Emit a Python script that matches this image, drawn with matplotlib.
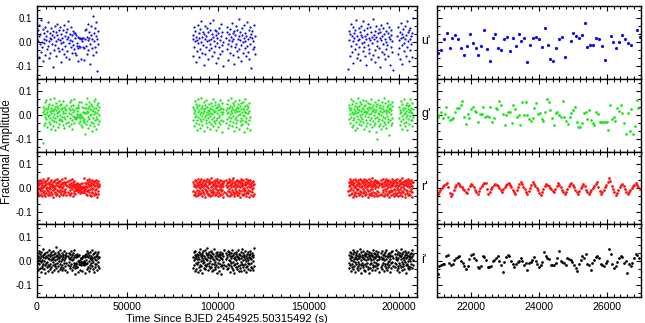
import numpy as np
import matplotlib.pyplot as plt
from matplotlib.ticker import MultipleLocator, FormatStrFormatter
from matplotlib.transforms import blended_transform_factory

plt.rcParams['font.family'] = ['Liberation Sans', 'DejaVu Sans']
plt.rcParams['axes.unicode_minus'] = False

# ---------------- data (flux in units of 0.001, times in s) ----------------
FILTERS = ["u'", "g'", "r'", "i'"]
COLORS = ['#0a0aee', '#1ee61e', '#ff1010', '#000000']

# full light curves: observing segments (start, end) and the fluxes read in each
U_SEGMENTS = [(0, 21000), (27000, 34000), (86000, 103000), (104500, 120500),
              (172000, 196500), (199000, 207500)]
U_FLUX = [
    [12, -115, 48, 5, -62, 27, 71, -8, 33, -41, 90, 2, -19, 56, -77, 38, 15, -3, 64, -52,
     24, 8, -28, 45, 81, -15, 3, -66, 37, 19, -44, 58, 11, -9, 29, -103, 46, 22, -31, 67,
     -12, 40, 6, -57, 31, 74, -23, 14, 52, -38, 9, 63, -5, -81, 35, 18, -27, 49, 1, -48,
     70, 26, -16, 42, -60, 13, 55, -36, 21, 87, -2, -70, 34, 10, -21, 61, -45, 28, 4, 47,
     -11, 39, -30, 16],
    [-14, 53, 22, -47, 8, 76, -33, 19, 41, -6, -88, 30, 65, -25, 12, 108, -52, 36, 3, -19,
     57, -40, 25, 84, -118, 14, 45, -9],
    [31, -56, 14, 62, -22, 5, 47, -80, 23, 9, -37, 71, -4, 38, -63, 17, 54, -29, 0, 86,
     -45, 20, 43, -12, -95, 35, 11, -50, 68, 26, -18, 3, 59, -71, 40, 7, -33, 49, -7, 78,
     -26, 15, 33, -58, 22, 92, -39, 6, 51, -15, -84, 29, 44, -3, 18, -66, 37, 60, -21, 10,
     -47, 25, 74, -10, -36, 41, 2, -99],
    [18, 63, -27, 40, -9, -74, 32, 7, 55, -43, 21, -16, 79, 4, -52, 36, 13, -88, 47, -20,
     28, 66, -6, -35, 50, 15, -61, 24, 95, -30, 9, 42, -12, -77, 31, 58, -1, -45, 19, 70,
     -24, 37, 3, -56, 26, 83, -14, 11, -39, 48, -68, 22, 61, -8, 34, -107, 16, 45, -29, 5,
     72, -19, 27, -48],
    [-112, 45, 10, -58, 33, 76, -14, 27, -41, 64, 3, -86, 38, 19, -30, 52, -9, 90, -65, 24,
     7, -47, 59, 14, -21, 42, -73, 31, 68, -5, 20, -37, 85, -18, 49, 2, -56, 26, 11, -94,
     57, 35, -11, 73, -44, 16, -27, 61, 8, -69, 40, 23, -3, 97, -52, 29, 13, -34, 46, -80,
     22, 66, -16, 4, -60, 37, 54, -25, 18, -104, 43, 9, 71, -39, 25, -8, 58, -49, 32, 15,
     -71, 47, 1, -28, 80, -13, 36, -55, 21, 62, -92, 12, 50, -20, 30, -42, 6, -116],
    [26, -49, 61, 8, -25, 43, -70, 17, 79, -12, 35, -91, 22, 54, -4, -37, 66, 11, -58, 29,
     87, -21, 40, 3, -76, 48, 14, -33, 58, -8, 24, -63, 37, 100],
]

G_SEGMENTS = [(3300, 16500), (17400, 21000), (27000, 34500), (86300, 102900),
              (104400, 117600), (172200, 196300), (200000, 207700)]
G_FLUX = [
    [14, -115, 35, 3, -41, 19, 52, -9, 27, -33, 6, 61, -17, 24, -50, 11, 38, -4, 29, -27,
     45, 0, -36, 17, 66, -13, 8, -58, 31, 21, -19, 42, -7, 15, -45, 26, 72, -24, 4, 33,
     -11, -63, 20, 49, -30, 9, 37, -2, -48, 28, 13, -21, 56, -38, 18, 2, 40, -15, -22, 23,
     47, -6, 30, -26, 10, 59, -42, 16, -9, 34, -55, 25, 7, -18, 43, -31, 21, -3],
    [-28, 31, 8, -46, 19, 54, -12, 37, -35, 3, 62, -20, 26, -58, 14, 41, -5, -31, 22, 68, -16],
    [9, -37, 44, 18, -24, 70, -8, 29, -52, 12, 36, -18, 55, -1, -42, 25, 6, -29, 47, -64,
     21, 39, -11, 16, -33, 58, 3, -47, 30, 13, -20, 65, -6, -56, 27, 40, -15, 8, -38, 50,
     19, -26, 2, 33],
    [-19, 32, 7, -44, 25, 58, -10, 16, -31, 47, 2, -60, 28, 39, -22, 11, 64, -6, -37, 20,
     43, -15, 5, -52, 30, 71, -26, 13, 36, -3, -41, 24, 8, -18, 53, -67, 17, 41, -9, 27,
     -34, 0, 60, -21, 14, 35, -48, 22, 6, -12, 45, -29, 18, -57, 31, 10, -4, 50, -38, 26,
     -16, 38, 3, -45, 21, 67, -24, 12, -7, 42, -33, 15, 55, -20, 29, -62, 9, 34, -13, 19,
     -50, 44, 1, -27, 37, -8, 23, 63, -36, 11, -19, 30, -71, 48, 5, -23, 26, 14],
    [22, -34, 9, 46, -17, 30, -55, 13, 61, -6, 27, -40, 4, 38, -23, 17, 70, -12, -46, 25,
     8, 33, -28, 51, -2, -64, 20, 41, -15, 11, 57, -31, 24, -8, -49, 35, 15, -21, 44, -1,
     29, -58, 18, 63, -26, 6, 36, -11, -43, 23, 48, -19, 12, -35, 31, 2, 55, -68, 21, -5,
     39, -24, 14, 66, -30, 9, -14, 42, -52, 26, 7, -38, 34, 16, -20, 50, -9, -61],
    [28, -15, 40, 6, -33, 19, 65, -7, 31, -48, 14, 44, -22, 3, 57, -39, 23, 10, -11, 36,
     -60, 17, 49, -28, 8, 33, -4, -52, 26, 71, -18, 12, 39, -36, 21, 0, 54, -25, 15, -9,
     46, -43, 30, 5, -16, 62, -30, 24, 11, -56, 37, 18, -2, 43, -21, 7, 58, -45, 27, 13,
     -34, 50, -10, 20, -64, 35, 4, -19, 45, 29, -38, 9, 67, -14, 22, -50, 32, 16, -26, 41,
     1, -41, 25, 55, -12, 14, -31, 38, -70, 19, 47, -6, -100, -24, 10, 60, -47, 33, 6, -17,
     42, -35, 18, 2, -58, 30, 52, -20, 12, 36, -8, -44, 24, 69, -27, 15, -13, 48, -37, 21,
     7, -54, 34, 17, -3, 40, -29, 59, -16, 26, -81, 11, 45, -22, 31, 3, -40, 20, 53, -11,
     37, -32],
    [-12, 35, 8, -40, 22, 57, -25, 14, -3, 46, -57, 19, 31, -18, 5, 64, -33, 27, 10, -47,
     40, -8, 16, -28, 51, 2, -62, 24, 37, -15, 11, 43, -36, 20, -5, 68, -22, 13, 30, -44,
     7, 49, -19, 26, -9],
]

R_SEGMENTS = [(0, 16500), (17300, 21000), (27000, 34400), (86300, 103300),
              (104400, 119900), (172000, 189000), (189800, 207500)]
R_FLUX = [
    [12, -18, 25, -5, 30, -22, 8, 16, -29, 21, -3, 33, -14, 4, -26, 19, 27, -9, -33, 14,
     2, 24, -17, 36, -11, 7, -24, 20, 11, -35, 28, -2, -19, 15, 31, -8, 5, -27, 22, -13,
     39, 0, -21, 17, 9, -31, 26, -6, 13, -16, 34, 3, -25, 18, -10, 23, 6, -38, 29, -4,
     10, -20, 32, 1, -15, 21, -28, 14, 37, -7, -23, 25, 8, -12, 19, -34, 27, 4, -18, 12,
     30, -9, -26, 16, 3, 22, -14, 35, -1, -30, 20, 7, -11, 26, -22, 15, 41, -5, -17, 11,
     24, -27, 9],
    [-16, 27, 5, -24, 18, 33, -10, 12, -29, 21, 2, -19, 36, -6, 14, -32, 25, 8, -13, 30,
     -21, 16, -2],
    [19, -25, 10, 31, -12, 4, -30, 23, 15, -8, 37, -18, 6, -27, 28, -3, 13, -35, 20, 9,
     -15, 34, -6, -22, 26, 1, 17, -31, 11, 29, -10, -19, 24, 7, -26, 32, -4, 14, -37, 21,
     3, -14, 27, -23, 16, 8],
    [-11, 24, 6, -28, 17, 32, -15, 9, -23, 28, 2, -34, 20, 13, -7, 35, -19, 11, -30, 25,
     4, -13, 30, -25, 16, -2, 38, -21, 8, -32, 22, 14, -9, 27, -17, 3, 33, -26, 12, -5,
     21, -36, 18, 7, -14, 29, -20, 10, 36, -11, -27, 23, 1, 15, -24, 31, -8, 19, -33, 26,
     5, -16, 40, -12, 9, -29, 24, 17, -4, -22, 30, 11, -18, 2, 34, -31, 21, -6, 13, -26,
     28, 6, -15, 37, -10, -35, 19, 8, -21, 25, 14, -3, -28, 32, -13, 18, 4, -24, 27, -9,
     16, -39, 22, 10, -17, 29],
    [14, -20, 31, 5, -27, 19, 26, -12, 8, -33, 23, 36, -6, -18, 12, 28, -25, 3, 17, -30,
     33, -9, 21, -15, 10, 39, -23, 6, -35, 25, 15, -4, -21, 29, -11, 18, 2, -28, 34, -16,
     9, 24, -31, 13, -7, 30, -19, 20, 4, -37, 27, 11, -13, 35, -24, 7, 22, -3, -29, 16,
     32, -14, 1, -26, 26, 12, -10, 38, -20, 15, -32, 23, 5, -17, 31, -8, 19, -22, 10, 28,
     -36, 17, 3, -12, 33, -27, 21, 8, -5, 25, -18, 14, -34, 30, -1, 18, -25],
    [-14, 26, 9, -31, 20, 35, -7, 13, -24, 30, -2, -19, 24, 16, -36, 11, 33, -10, 5, -27,
     22, 38, -15, 7, -22, 29, 1, -33, 18, 12, -8, 34, -20, 25, -4, 10, -29, 21, 37, -12,
     -25, 15, 3, 31, -17, 23, -34, 8, 27, -6, 19, -21, 36, -11, 14, -30, 26, 2, -16, 32,
     17, -26, 9, -3, 28, -38, 20, 6, -13, 35, -23, 12, 24, -9, -31, 18, 4, 30, -19, 14,
     -6, 39, -28, 22, 10, -15, 27, -35, 16, 1, 33, -20, 11, -24, 25, 7, -12, 29, -32, 19,
     3, 26, -17, 13, -27, 21],
    [18, -23, 31, 4, -30, 22, 13, -9, 36, -18, 7, -34, 25, 15, -5, 28, -26, 11, 38, -14,
     -2, 20, -31, 27, 9, -20, 33, -11, 16, -37, 24, 3, -16, 30, -7, 12, -28, 21, 35, -13,
     6, -24, 29, 17, -3, -32, 23, 10, -19, 34, -8, 14, -27, 26, 1, 37, -21, 19, -10, 8,
     -35, 28, 12, -15, 32, -4, 22, -29, 15, 5, -22, 39, -12, 24, -33, 18, 2, -17, 30, -6,
     11, -25, 27, 20, -38, 14, -9, 31, -20, 7, 25, -14, 35, -30, 16, 3, -23, 29, 9, -11,
     21, -27, 33, -5, 13, -36, 26, 6, -18, 24],
]

I_SEGMENTS = [(0, 16500), (17300, 21000), (27000, 34400), (86300, 103300),
              (104400, 119900), (172200, 189000), (189800, 196500), (197500, 207700)]
I_FLUX = [
    [8, -24, 31, -9, 17, -38, 22, 3, -15, 40, -30, 12, 27, -6, -44, 19, 35, -20, 5, -28,
     14, 47, -12, 24, -35, 1, 29, -18, 10, -52, 33, 16, -8, 21, -26, 38, -3, -40, 25, 11,
     -16, 43, -22, 7, 30, -33, 18, -11, 2, 36, -27, 13, -47, 23, 9, -19, 41, -5, 28, -37,
     15, 4, -23, 33, -13, 20, 55, -31, 6, -9, 26, -42, 17, 37, -21, 11, -2, 30, -34, 22,
     -14, 45, 0, -25, 19, -39, 32, 7, -17, 26, -29, 14, 39, -10, 3, -36, 24, 12, -20, 34,
     -7, 18, -45],
    [21, -17, 34, -4, 12, -31, 27, 6, -22, 39, -12, 16, -36, 25, 2, -26, 31, 9, -8, 43,
     -19, 14, -28],
    [-13, 29, 5, -33, 20, 41, -8, 16, -24, 33, -1, -41, 24, 11, -18, 37, -29, 7, 19, -10,
     45, -21, 13, 2, -35, 27, -6, 15, -47, 31, 9, -15, 38, -26, 18, 4, -12, 28, -38, 22,
     -3, 35, -20, 10, -30, 17],
    [17, -29, 35, 4, -19, 26, -40, 12, 42, -7, 21, -33, 9, 30, -14, -46, 24, 15, -3, 37,
     -25, 6, 28, -17, 48, -37, 19, 1, -22, 33, 11, -51, 26, -10, 39, 5, -28, 20, -5, 44,
     -16, 13, -34, 31, 8, -23, 23, 52, -12, 3, -39, 27, 16, -20, 36, -8, 10, -31, 25, -1,
     41, -26, 18, -43, 14, 32, -15, 7, -36, 29, 2, -11, 47, -24, 22, -4, -33, 34, 12, -18,
     26, -48, 9, 38, -9, 19, -27, 30, 4, -40, 24, 16, -13, 36, -21, 11, -55, 28, 6, -16,
     33, -6, 20, -30, 43, -19],
    [-20, 31, 8, -35, 23, 14, -11, 40, -28, 5, 27, -17, 36, -44, 18, 1, -23, 33, 10, -8,
     45, -31, 21, -3, -38, 26, 12, -19, 34, -49, 16, 7, -14, 29, -26, 38, 3, -34, 22, -9,
     13, 43, -22, 17, -40, 30, 6, -16, 24, -30, 35, -5, 11, -42, 20, 48, -13, 2, -27, 32,
     -18, 15, -36, 25, 9, -11, 39, -24, 19, -2, -46, 28, 13, -21, 37, -7, 4, -32, 23, 16,
     -15, 30, -39, 11, 42, -25, 7, -10, 34, -29, 21, -1, -37, 26, 14, -20, 51],
    [-9, 26, -30, 13, 38, -18, 4, -41, 22, 31, -12, 17, -25, 44, 1, -35, 28, 9, -20, 36,
     -6, 15, -46, 24, 11, -15, 33, -28, 7, 41, -22, 19, -3, -38, 29, 12, -11, 47, -31, 21,
     3, -19, 35, -52, 16, 26, -8, -27, 39, 10, -16, 24, -36, 6, 32, -13, 18, -43, 27, 2,
     -21, 42, -7, 14, -33, 30, 8, -24, 20, -49, 37, 11, -14, 25, -29, 5, 34, -10, 18, -39,
     23, 45, -17, 9, -26, 31, -4, 15, -37, 28, 12, -22, 40, -8, 19, -31, 3, 27, -18, 35,
     -12, 21, -45, 16, 8],
    [15, -27, 32, 6, -19, 40, -34, 12, 24, -8, -42, 29, 3, -15, 37, -23, 18, 9, -31, 45,
     -12, 21, -38, 14, 30, -5, -26, 34, 1, -17, 26, -47, 19, 8, -10, 36, -29, 22, -3, 41,
     -21, 11],
    [-7, 30, -25, 16, 43, -14, 9, -36, 27, 2, -20, 38, -30, 13, 24, -9, -44, 21, 34, -16,
     6, 47, -27, 18, -3, -38, 29, 11, -12, 35, -23, 15, 4, -33, 26, -5, 41, -19, 10, -48,
     31, 14, -11, 23, -29, 37, 1, -21, 19, 8, -35, 28, -2, 16, -25, 33, 12, -15, 44, -31,
     20, 5, -17, 27],
]

# zoomed window 21000-27000 s (also part of the first night on the left)
U_ZOOM_T = [21010, 21108, 21197, 21285, 21363, 21442, 21530, 21618, 21696, 21785,
            21873, 21961, 22049, 22128, 22206, 22294, 22382, 22471, 22559, 22637,
            22716, 22804, 22892, 22970, 23059, 23147, 23235, 23313, 23402, 23480,
            23568, 23656, 23745, 23823, 23911, 23999, 24078, 24166, 24254, 24333,
            24421, 24499, 24587, 24676, 24764, 24930, 25009, 25097, 25175, 25264,
            25352, 25430, 25518, 25607, 25685, 25773, 25861, 25940, 26116, 26195,
            26283, 26371, 26449, 26538, 26616, 26704, 26881, 26969]
U_ZOOM_F = [-43, -32, 12, 36, -26, 16, 30, 11, -25, -52,
            -14, 33, -4, -25, -52, -15, 52, -29, -77, 16,
            32, -26, -32, 11, 21, -38, 19, -16, 34, 3,
            16, -80, -11, 16, 21, 11, -19, 60, -10, -70,
            -77, -23, 12, 23, -63, 5, 36, 26, 19, 29,
            77, -18, -11, -12, 18, 15, -15, -74, 26, -1,
            -25, -1, 30, 12, -3, -11, 49, 22]

G_ZOOM_SPAN = (21010, 26930)
G_ZOOM_F = [-6, -1, 12, -14, 6, 32, -9, -21, -16, -14,
            12, 27, 30, 43, 57, -9, -35, 6, -13, 26,
            32, 17, 13, -27, 4, 4, 34, -7, -5, -6,
            34, -28, -13, 30, 24, 57, 41, 5, -42, -1,
            12, 13, -32, 41, 23, -9, -1, -43, 54, -1,
            52, -1, -17, -23, -14, 28, 49, 6, 10, -17,
            -23, 12, 67, 54, 19, -13, -39, 10, 12, 2,
            -7, 58, -7, -23, -35, -10, 8, 19, 35, -29,
            -50, -50, -32, 10, 12, -18, 20, -21, -33, -43,
            12, 6, -27, -29, -27, -27, -29, -62, 43, -17,
            -6, -25, 31, 16, 41, 9, -32, -80, 9, -65,
            23, -76, -47, 63, 27]

R_ZOOM_SPAN = (21010, 26969)
R_ZOOM_F = [-23, -18, -10, -2, 6, 13, 18, 21, 3, -20,
            -35, -24, -10, 2, 14, 22, 17, 10, 4, -3,
            -10, -16, -19, -5, 8, 18, 12, 2, -8, -17,
            -23, -12, 0, 10, 17, 20, 19, -4, -26, -16,
            -6, 4, 12, 18, 14, 7, -1, -9, -15, -6,
            4, 12, 18, 22, 12, 2, -8, -16, -23, -10,
            4, 15, 25, 16, 5, -6, -17, -26, -14, 0,
            13, 26, 18, 9, 0, -9, -19, -27, -17, -5,
            6, 16, 14, 8, 1, -5, -11, -15, -4, 8,
            20, 12, 2, -8, -17, -26, -16, -5, 6, 15,
            21, 12, 2, -9, -18, -26, -14, -2, 9, 18,
            6, -8, -18, -26, -18, -9, 0, 9, 17, 25,
            5, -12, -26, -17, -8, 2, 12, 24, 40, 30,
            10, -5, -18, -30, -20, -8, 3, 11, 16, 8,
            -6, -18, -26, -16, -8, 0, 8, 14, 20, 14,
            4, -5]

I_ZOOM_SPAN = (21010, 26949)
I_ZOOM_F = [-56, -23, -18, -14, -12, 22, 25, -10, -18, -12,
            4, 10, 15, 19, 1, -10, -23, -33, -23, 7,
            26, 27, 10, 4, -26, -30, -23, 18, 15, 4,
            -26, -26, -23, -1, 4, 11, 18, 1, -19, -44,
            -5, 14, 26, 18, 1, -11, -25, -15, -5, 1,
            10, -1, -19, -10, -37, -8, -3, 5, 15, -1,
            -12, -26, -16, -4, 36, 18, 11, 8, -19, -18,
            -19, -10, 12, 41, -1, -4, -10, -16, 10, 8,
            4, -5, -19, -30, -40, -15, 5, 22, 10, 29,
            -15, -16, -37, -10, 4, 15, 19, 10, -15, -18,
            -23, -10, -1, 49, 29, -12, -30, -23, -5, 10,
            21, 15, -10, 1, -51, -15, -23, -10, 11, 29,
            25, 10]


def light_curve(segments, fluxes):
    t = np.concatenate([np.linspace(a, b, len(f)) for (a, b), f in zip(segments, fluxes)])
    f = np.concatenate([np.asarray(f, float) for f in fluxes]) / 1000.0
    return t, f


zoom_data = [
    (np.array(U_ZOOM_T, float), np.array(U_ZOOM_F) / 1000.0),
    (np.linspace(*G_ZOOM_SPAN, len(G_ZOOM_F)), np.array(G_ZOOM_F) / 1000.0),
    (np.linspace(*R_ZOOM_SPAN, len(R_ZOOM_F)), np.array(R_ZOOM_F) / 1000.0),
    (np.linspace(*I_ZOOM_SPAN, len(I_ZOOM_F)), np.array(I_ZOOM_F) / 1000.0),
]
full_data = [light_curve(U_SEGMENTS, U_FLUX), light_curve(G_SEGMENTS, G_FLUX),
             light_curve(R_SEGMENTS, R_FLUX), light_curve(I_SEGMENTS, I_FLUX)]
# the full-run panels are drawn at a coarser cadence, so thin the zoom window to match
thin_step = [3, 3, 4, 3]
left_ms = [1.6, 1.7, 1.9, 1.8]

# ---------------- layout (pixel boxes of the 645x323 image) ----------------
W, H = 645.0, 323.0
fig = plt.figure(figsize=(6.45, 3.23), dpi=100)


def px_box(x0, y0, x1, y1):
    return [x0 / W, 1 - y1 / H, (x1 - x0) / W, (y1 - y0) / H]


row_top = [5.7, 78.6, 151.5, 224.4]
row_h = 72.9


def style(ax):
    ax.tick_params(which='both', direction='in', top=True, right=True, width=0.8,
                   colors='black')
    ax.tick_params(which='major', length=3.4)
    ax.tick_params(which='minor', length=1.9)
    ax.tick_params(axis='x', labelsize=7.6, pad=3.2)
    ax.tick_params(axis='y', labelsize=7.0, pad=3.4)
    for s in ax.spines.values():
        s.set_linewidth(1.0)
    ax.set_ylim(-0.15, 0.15)
    ax.yaxis.set_major_locator(MultipleLocator(0.1))
    ax.yaxis.set_minor_locator(MultipleLocator(0.1 / 3))


for k in range(4):
    y0 = row_top[k]
    axl = fig.add_axes(px_box(36.7, y0, 417.3, y0 + row_h))
    axr = fig.add_axes(px_box(437.3, y0, 640.7, y0 + row_h))
    style(axl)
    style(axr)

    t, f = full_data[k]
    tz, fz = zoom_data[k]
    s = thin_step[k]
    axl.plot(np.concatenate([t, tz[::s]]), np.concatenate([f, fz[::s]]), 'o',
             ms=left_ms[k], mew=0, color=COLORS[k])
    axl.set_xlim(0, 210000)
    axl.xaxis.set_major_locator(MultipleLocator(50000))
    axl.xaxis.set_minor_locator(MultipleLocator(5000))
    axl.xaxis.set_major_formatter(FormatStrFormatter('%d'))
    axl.yaxis.set_major_formatter(FormatStrFormatter('%.1f'))

    axr.plot(tz, fz, 'o', ms=2.3 if k == 0 else 2.0, mew=0, color=COLORS[k])
    axr.set_xlim(21000, 27000)
    axr.xaxis.set_major_locator(MultipleLocator(2000))
    axr.xaxis.set_minor_locator(MultipleLocator(200))
    axr.xaxis.set_major_formatter(FormatStrFormatter('%d'))
    axr.tick_params(axis='y', labelleft=False)

    if k < 3:
        axl.tick_params(axis='x', labelbottom=False)
        axr.tick_params(axis='x', labelbottom=False)

    tr = blended_transform_factory(fig.transFigure, axr.transData)
    axr.text(421 / W, 0.004, FILTERS[k], transform=tr, ha='left', va='center',
             fontsize=9)

fig.text(1 / W, 1 - 152 / H, 'Fractional Amplitude', rotation=90,
         ha='left', va='center', fontsize=8.3)
fig.text(227 / W, 1 - 313.5 / H, 'Time Since BJED 2454925.50315492 (s)',
         ha='center', va='top', fontsize=8.0)

fig.savefig('out.png', dpi=100)
